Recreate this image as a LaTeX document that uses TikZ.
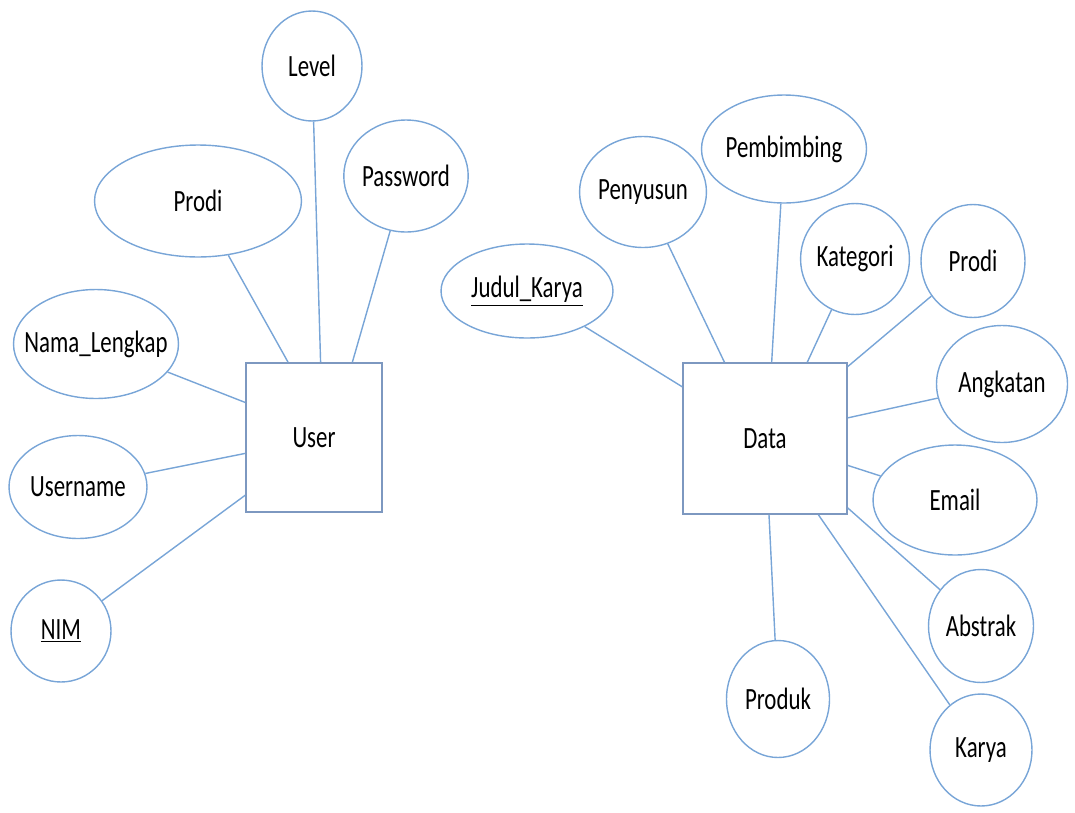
\documentclass[tikz,border=0pt]{standalone}
\usepackage{fontspec}
\setmainfont[FakeStretch=0.74]{Carlito}
\usepackage{tikz}
\usetikzlibrary{shapes.geometric}
\definecolor{lineblue}{RGB}{120,165,215}
\definecolor{boxblue}{RGB}{125,152,192}
\tikzset{
  attr/.style={ellipse,draw=lineblue,line width=0.8pt,inner sep=0pt,font=\fontsize{17.6}{20}\selectfont},
  tight/.style={inner xsep=-0.4cm},
  entity/.style={rectangle,draw=boxblue,line width=0.9pt,inner sep=0pt,font=\fontsize{17.6}{20}\selectfont},
  link/.style={draw=lineblue,line width=0.8pt}
}
\begin{document}
\begin{tikzpicture}[x=0.02cm,y=-0.02cm]
    \useasboundingbox (0,0) rectangle (1075,812);
    % entities
    \node[entity,minimum width=2.72cm,minimum height=2.98cm] (user) at (314,437.5) {User};
    \node[entity,minimum width=3.28cm,minimum height=3.02cm] (data) at (765,438.5) {Data};
    % attributes of User
    \node[attr,minimum width=2.0cm,minimum height=2.2cm] (level) at (312,66) {Level};
    \node[attr,minimum width=4.14cm,minimum height=2.24cm] (prodiu) at (198,201) {Prodi};
    \node[attr,minimum width=2.0cm,minimum height=2.24cm] (password) at (406,176) {Password};
    \node[attr,tight,minimum width=3.3cm,minimum height=2.18cm] (nama) at (96,344) {Nama\_Lengkap};
    \node[attr,tight,minimum width=2.76cm,minimum height=2.06cm] (username) at (78,487) {Username};
    \node[attr,minimum width=2.0cm,minimum height=2.04cm] (nim) at (61,631) {\underline{NIM}};
    % attributes of Data
    \node[attr,minimum width=3.44cm,minimum height=1.88cm] (judul) at (527,291) {\underline{Judul\_Karya}};
    \node[attr,minimum width=2.2cm,minimum height=2.22cm] (penyusun) at (643,192) {Penyusun};
    \node[attr,minimum width=3.3cm,minimum height=2.16cm] (pembimbing) at (784,149) {Pembimbing};
    \node[attr,minimum width=1.84cm,minimum height=2.22cm] (kategori) at (855,259) {Kategori};
    \node[attr,minimum width=2.08cm,minimum height=2.26cm] (prodid) at (973,261) {Prodi};
    \node[attr,minimum width=2.62cm,minimum height=2.34cm] (angkatan) at (1002,384) {Angkatan};
    \node[attr,minimum width=3.28cm,minimum height=2.2cm] (email) at (955,500) {Email};
    \node[attr,minimum width=2.1cm,minimum height=2.26cm] (abstrak) at (981,626) {Abstrak};
    \node[attr,minimum width=2.06cm,minimum height=2.34cm] (produk) at (778,699) {Produk};
    \node[attr,minimum width=2.04cm,minimum height=2.24cm] (karya) at (981,750) {Karya};
    % connectors
    \draw[link] (user.85) -- (level);
    \draw[link] (user.109) -- (prodiu);
    \draw[link] (user.63) -- (password);
    \draw[link] (user.153) -- (nama);
    \draw[link] (user.193) -- (username);
    \draw[link] (user.220) -- (nim);
    \draw[link] (data.148) -- (judul);
    \draw[link] (data.118) -- (penyusun);
    \draw[link] (data.85) -- (pembimbing);
    \draw[link] (data.61) -- (kategori);
    \draw[link] (data.41) -- (prodid);
    \draw[link] (data.14) -- (angkatan);
    \draw[link] (data.342) -- (email);
    \draw[link] (data.320) -- (abstrak);
    \draw[link] (data.273) -- (produk);
    \draw[link] (data.305) -- (karya);
\end{tikzpicture}
\end{document}
